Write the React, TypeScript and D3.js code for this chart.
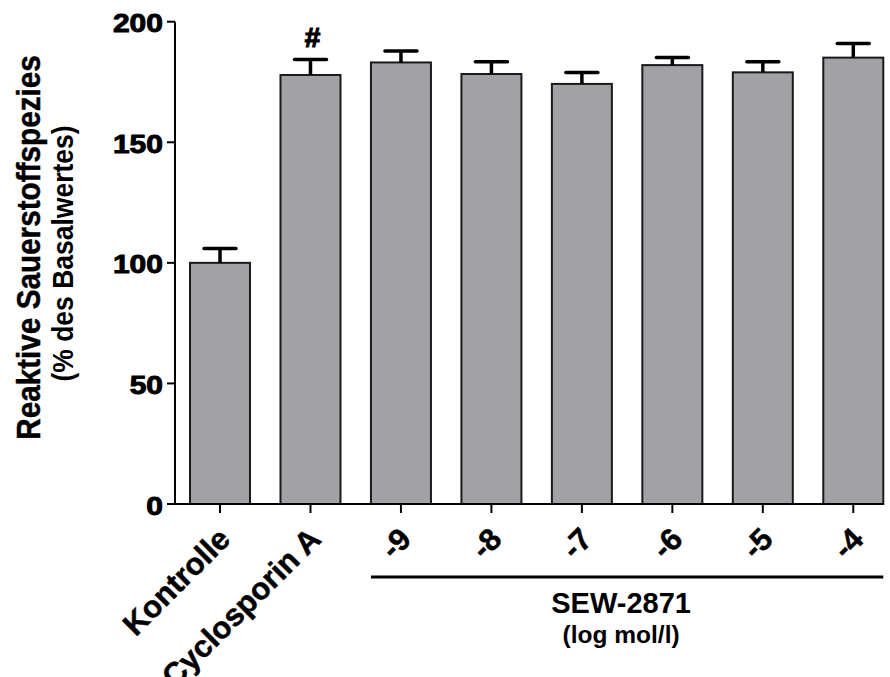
import React, { useEffect, useRef } from 'react';
import * as d3 from 'd3';

// categories on the x axis
const categories = ['Kontrolle', 'Cyclosporin A', '-9', '-8', '-7', '-6', '-5', '-4'];
// mean ROS (% of basal value)
const means = [100, 177.9, 183.1, 178.3, 174.2, 182.0, 179.0, 185.1];
// standard error
const errors = [6.0, 6.4, 4.7, 5.1, 4.7, 3.2, 4.4, 5.9];
const yTicks = [0, 50, 100, 150, 200];
const groupLabel = 'SEW-2871';
const groupUnit = '(log mol/l)';

const FONT = '"Liberation Sans", Arial, sans-serif';

const App = () => {
  const ref = useRef<SVGSVGElement | null>(null);

  useEffect(() => {
    if (!ref.current) return;
    const svg = d3.select(ref.current);
    svg.selectAll('*').remove();

    const left = 175;
    const y = d3.scaleLinear().domain([0, 200]).range([504, 21.7]);
    const x = d3.scaleBand<string>()
      .domain(categories)
      .range([left, 898.3])
      .paddingInner(0.3368)
      .paddingOuter(0.166);

    const data = categories.map((c, i) => ({ c, m: means[i], e: errors[i] }));

    // bars
    svg.append('g')
      .selectAll('rect')
      .data(data)
      .enter()
      .append('rect')
      .attr('x', d => x(d.c)!)
      .attr('y', d => y(d.m))
      .attr('width', x.bandwidth())
      .attr('height', d => y(0) - y(d.m))
      .attr('fill', '#a2a1a6')
      .attr('stroke', '#1a1a1a')
      .attr('stroke-width', 2);

    // error bars
    const eg = svg.append('g').attr('stroke', '#000').attr('stroke-width', 3.5);
    data.forEach(d => {
      const cx = x(d.c)! + x.bandwidth() / 2;
      eg.append('line')
        .attr('x1', cx).attr('x2', cx)
        .attr('y1', y(d.m)).attr('y2', y(d.m + d.e));
      eg.append('line')
        .attr('x1', cx - 16).attr('x2', cx + 16)
        .attr('y1', y(d.m + d.e)).attr('y2', y(d.m + d.e))
        .attr('stroke-linecap', 'round');
    });

    // y axis
    const ya = svg.append('g').attr('stroke', '#000').attr('stroke-width', 2);
    ya.append('line').attr('x1', left).attr('x2', left).attr('y1', y(0)).attr('y2', y(200));
    yTicks.forEach(t => {
      ya.append('line').attr('x1', left - 8).attr('x2', left).attr('y1', y(t)).attr('y2', y(t));
      svg.append('text')
        .attr('transform', `translate(163,${y(t) + 10.5}) scale(1.2,1)`)
        .attr('text-anchor', 'end')
        .attr('stroke', '#000')
        .attr('stroke-width', 0.9)
        .style('font-family', FONT)
        .style('font-weight', 'bold')
        .style('font-size', '25px')
        .text(t);
    });

    // x axis
    const xa = svg.append('g').attr('stroke', '#000').attr('stroke-width', 2);
    xa.append('line').attr('x1', left).attr('x2', 884).attr('y1', y(0)).attr('y2', y(0));
    categories.forEach(c => {
      const cx = x(c)! + x.bandwidth() / 2;
      xa.append('line').attr('x1', cx).attr('x2', cx).attr('y1', y(0)).attr('y2', y(0) + 9);
      svg.append('text')
        .attr('transform', `translate(${cx + 12},${541}) rotate(-45)`)
        .attr('text-anchor', 'end')
        .attr('stroke', '#000')
        .attr('stroke-width', 0.5)
        .style('font-family', FONT)
        .style('font-weight', 'bold')
        .style('font-size', '31px')
        .text(c);
    });

    // "#" marker over Cyclosporin A
    const cyc = x('Cyclosporin A')! + x.bandwidth() / 2;
    svg.append('text')
      .attr('x', cyc + 2)
      .attr('y', 47)
      .attr('text-anchor', 'middle')
      .attr('stroke', '#000')
      .attr('stroke-width', 1.2)
      .style('font-family', FONT)
      .style('font-weight', 'bold')
      .style('font-size', '28px')
      .text('#');

    // group bracket for SEW-2871
    const gx0 = x('-9')!;
    const gx1 = x('-4')! + x.bandwidth();
    svg.append('line')
      .attr('x1', gx0).attr('x2', gx1)
      .attr('y1', 577).attr('y2', 577)
      .attr('stroke', '#000').attr('stroke-width', 3);
    const gc = (gx0 + gx1) / 2 - 6;
    svg.append('text')
      .attr('x', gc).attr('y', 613)
      .attr('text-anchor', 'middle')
      .style('font-family', FONT).style('font-weight', 'bold').style('font-size', '29px')
      .text(groupLabel);
    svg.append('text')
      .attr('x', gc).attr('y', 643)
      .attr('text-anchor', 'middle')
      .style('font-family', FONT).style('font-weight', 'bold').style('font-size', '24.5px')
      .text(groupUnit);

    // y title
    svg.append('text')
      .attr('transform', `translate(40,${247.5}) scale(1.1,1) rotate(-90)`)
      .attr('text-anchor', 'middle')
      .attr('stroke', '#000')
      .attr('stroke-width', 0.4)
      .style('font-family', FONT).style('font-weight', 'bold').style('font-size', '29.7px')
      .text('Reaktive Sauerstoffspezies');
    svg.append('text')
      .attr('transform', `translate(73,${253.5}) scale(1.1,1) rotate(-90)`)
      .attr('text-anchor', 'middle')
      .style('font-family', FONT).style('font-weight', 'bold').style('font-size', '26.5px')
      .text('(% des Basalwertes)');
  }, []);

  return (
    <svg
      ref={ref}
      width={890}
      height={677}
      style={{ position: 'absolute', left: 0, top: 0, background: '#fff' }}
    />
  );
};

export default App;
